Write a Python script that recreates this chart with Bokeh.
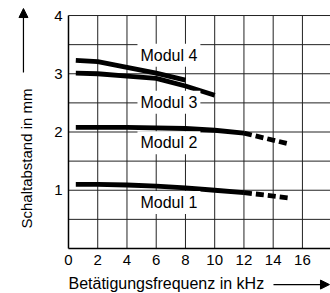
import math
from bokeh.plotting import figure
from bokeh.models import Range1d, Label, Arrow, NormalHead
from bokeh.core.properties import value
from bokeh.embed import file_html
from bokeh.resources import INLINE

# ---- data ----
m4_x = [0.5, 2, 4, 6, 8]
m4_y = [3.23, 3.21, 3.11, 3.01, 2.89]

m3_x = [0.5, 2, 4, 6, 8, 10]
m3_y = [3.01, 3.00, 2.96, 2.92, 2.79, 2.63]

m2_x = [0.5, 4, 8, 10, 12]
m2_y = [2.08, 2.08, 2.06, 2.03, 1.98]
m2_dash_x = [12, 15]
m2_dash_y = [1.98, 1.80]

m1_x = [0.5, 2, 4, 6, 8, 10, 12]
m1_y = [1.10, 1.10, 1.09, 1.07, 1.04, 1.00, 0.96]
m1_dash_x = [12, 15]
m1_dash_y = [0.96, 0.87]

x_ticks = [0, 2, 4, 6, 8, 10, 12, 14, 16]
x_grid = [2, 4, 6, 8, 10, 12, 14, 16]
y_ticks = [1, 2, 3, 4]
y_grid = [0.5, 1, 1.5, 2, 2.5, 3, 3.5, 4]
x_min, x_max = 0, 18
y_min, y_max = 0, 4

labels = ["Modul 4", "Modul 3", "Modul 2", "Modul 1"]
label_x = [6.87, 6.87, 6.87, 6.87]
label_y = [3.32, 2.51, 1.815, 0.79]

x_title = "Betätigungsfrequenz in kHz"
y_title = "Schaltabstand in mm"

FONT = "Liberation Sans"

# the frame covers the whole canvas; axes are drawn in data space
p = figure(width=330, height=293, output_backend="svg", toolbar_location=None,
           x_range=Range1d(-4.65, 17.92), y_range=Range1d(-0.773, 4.258),
           x_axis_location=None, y_axis_location=None, min_border=0)
p.outline_line_color = None
p.grid.visible = False
p.background_fill_color = "white"
p.border_fill_color = "white"

GRID = "#222222"
# grid lines
p.segment(x0=x_grid, y0=[y_min] * len(x_grid), x1=x_grid, y1=[y_max] * len(x_grid),
          line_color=GRID, line_width=1)
p.segment(x0=[x_min] * len(y_grid), y0=y_grid, x1=[x_max] * len(y_grid), y1=y_grid,
          line_color=GRID, line_width=1)
# axis lines
p.segment(x0=[x_min, x_min], y0=[y_min, y_min], x1=[x_max, x_min], y1=[y_min, y_max],
          line_color="black", line_width=1.5)

# tick labels
p.text(x=x_ticks, y=[y_min] * len(x_ticks), text=[str(t) for t in x_ticks],
       y_offset=12, text_align="center", text_baseline="middle",
       text_font=value(FONT), text_font_size="15px", text_color="black")
p.text(x=[x_min] * len(y_ticks), y=y_ticks, text=[str(t) for t in y_ticks],
       x_offset=-10, text_align="center", text_baseline="middle",
       text_font=value(FONT), text_font_size="15px", text_color="black")

# curves
lw = 4.8
p.line(m4_x, m4_y, line_width=lw, color="black")
p.line(m3_x, m3_y, line_width=lw, color="black")
p.line(m2_x, m2_y, line_width=lw, color="black")
p.line(m2_dash_x, m2_dash_y, line_width=lw, color="black", line_dash="8 4")
p.line(m1_x, m1_y, line_width=lw, color="black")
p.line(m1_dash_x, m1_dash_y, line_width=lw, color="black", line_dash="8 4")

# curve labels
for t, lx, ly in zip(labels, label_x, label_y):
    p.add_layout(Label(x=lx, y=ly, text=t, text_align="center",
                       text_baseline="middle", text_font=FONT,
                       text_font_size="16px", text_color="black",
                       background_fill_color="white", padding=3))

# axis titles
p.add_layout(Label(x=0.0, y=-0.595, text=x_title, text_align="left",
                   text_baseline="middle", text_font=FONT,
                   text_font_size="16px", text_color="black"))
p.add_layout(Label(x=-2.87, y=1.545, text=y_title, text_align="center",
                   text_baseline="middle", angle=math.pi / 2,
                   text_font=FONT, text_font_size="15px", text_color="black"))

# arrows
p.add_layout(Arrow(x_start=14.02, y_start=-0.62, x_end=17.85, y_end=-0.62,
                   line_width=1.2, line_color="black",
                   end=NormalHead(size=9, fill_color="black", line_color="black")))
p.add_layout(Arrow(x_start=-3.08, y_start=3.02, x_end=-3.08, y_end=4.12,
                   line_width=1.2, line_color="black",
                   end=NormalHead(size=9, fill_color="black", line_color="black")))

open("out.html", "w").write(file_html(p, INLINE))
